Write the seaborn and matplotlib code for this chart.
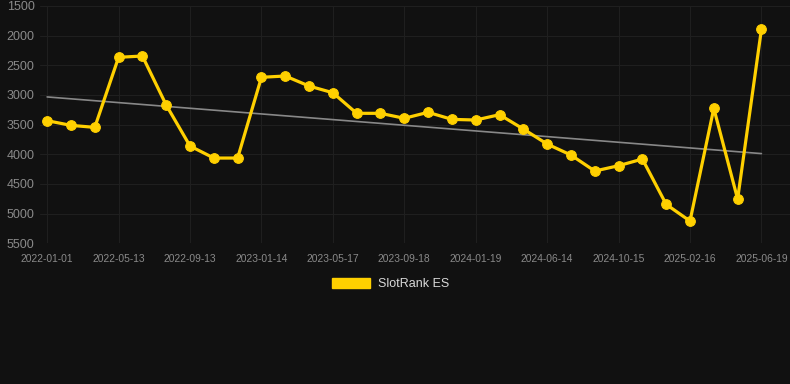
import numpy as np
import pandas as pd
import matplotlib
matplotlib.use('Agg')
import matplotlib.pyplot as plt
from matplotlib.patches import Patch
import seaborn as sns

# category labels (only every 3rd one is shown on the axis)
dates = [
    '2022-01-01', '2022-02-14', '2022-03-30', '2022-05-13', '2022-06-23',
    '2022-08-03', '2022-09-13', '2022-10-24', '2022-12-04', '2023-01-14',
    '2023-02-24', '2023-04-06', '2023-05-17', '2023-06-27', '2023-08-08',
    '2023-09-18', '2023-10-29', '2023-12-09', '2024-01-19', '2024-03-08',
    '2024-04-26', '2024-06-14', '2024-07-25', '2024-09-04', '2024-10-15',
    '2024-11-25', '2025-01-05', '2025-02-16', '2025-03-29', '2025-05-09',
    '2025-06-19',
]
rank = [
    3433, 3512, 3546, 2365, 2343, 3169, 3860, 4063, 4063, 2702,
    2680, 2849, 2962, 3309, 3309, 3393, 3292, 3411, 3422, 3332,
    3574, 3827, 4012, 4282, 4192, 4080, 4844, 5125, 3225, 4754,
    1893,
]
y_ticks = [1500, 2000, 2500, 3000, 3500, 4000, 4500, 5000, 5500]
series_name = 'SlotRank ES'

df = pd.DataFrame({'idx': np.arange(len(dates)), 'date': dates, 'rank': rank})

# linear trend over the series
slope, intercept = np.polyfit(df['idx'], df['rank'], 1)
df['trend'] = slope * df['idx'] + intercept

bg = '#111111'
sns.set_theme(style='dark', rc={
    'figure.facecolor': bg,
    'axes.facecolor': bg,
    'axes.edgecolor': bg,
    'grid.color': '#1f1f1f',
    'grid.linewidth': 0.8,
})
plt.rcParams['font.family'] = ['Liberation Sans', 'DejaVu Sans']

fig = plt.figure(figsize=(7.9, 3.84), dpi=100)
ax = fig.add_axes([40 / 790, 1 - 243.3 / 384, 750 / 790, 237.3 / 384])

sns.lineplot(data=df, x='idx', y='trend', ax=ax, color='#888888', linewidth=1.2, zorder=2)
sns.lineplot(data=df, x='idx', y='rank', ax=ax, color='#FFD000', linewidth=2.3,
             marker='o', markersize=7, markeredgecolor='#FFD000', zorder=3)

ax.set_ylim(5500, 1500)
ax.set_yticks(y_ticks)
ax.set_xlim(-0.3, 31.2)
ax.set_xticks(df['idx'][::3])
ax.set_xticklabels(df['date'][::3])
ax.grid(True, axis='both')
ax.tick_params(axis='x', colors='#8a8a8a', labelsize=7.4, length=0, pad=8)
ax.tick_params(axis='y', colors='#8a8a8a', labelsize=9, length=0, pad=4)
ax.set_xlabel('')
ax.set_ylabel('')
for s in ax.spines.values():
    s.set_visible(False)

handle = Patch(facecolor='#FFD000', edgecolor='#FFD000', label=series_name)
fig.legend(handles=[handle], loc='center', bbox_to_anchor=(0.494, 1 - 284 / 384),
           frameon=False, fontsize=9, labelcolor='#d8d8d8',
           handlelength=3.1, handleheight=0.9, handletextpad=0.6)

fig.savefig('out.png', dpi=100, facecolor=bg)
